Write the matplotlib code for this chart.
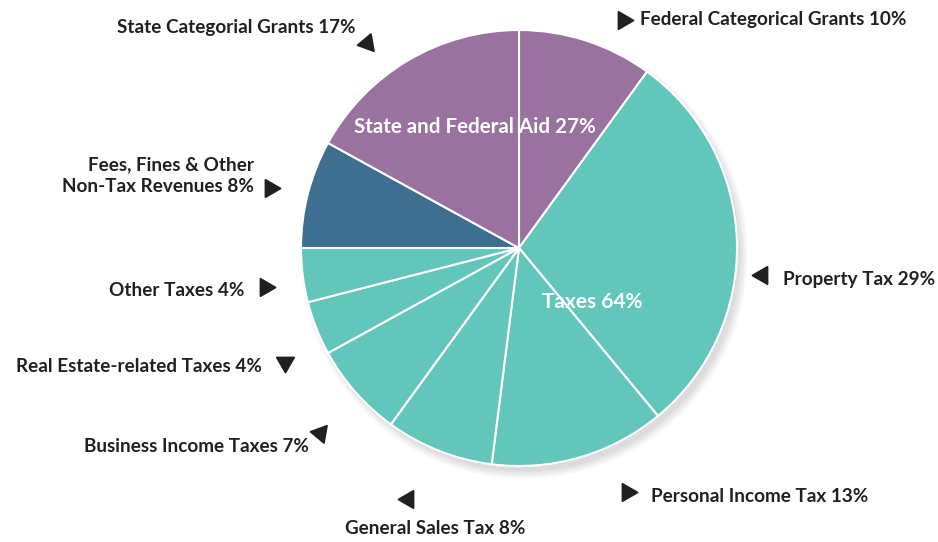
import matplotlib.pyplot as plt
import matplotlib.patches as mpatches

# data
labels = ["Federal Categorical Grants 10%", "Property Tax 29%", "Personal Income Tax 13%",
          "General Sales Tax 8%", "Business Income Taxes 7%", "Real Estate-related Taxes 4%",
          "Other Taxes 4%", "Fees, Fines & Other\nNon-Tax Revenues 8%", "State Categorial Grants 17%"]
shares = [10, 29, 13, 8, 7, 4, 4, 8, 17]
groups = ["aid", "tax", "tax", "tax", "tax", "tax", "tax", "fees", "aid"]
group_colors = {"aid": "#9a72a0", "tax": "#63c6ba", "fees": "#3e6f91"}

# label layout (pixel coords, y from top): text x, text y, alignment, arrow x, arrow y, arrow angle
label_pos = [
    (640, 19, "left", 623, 20, -90),
    (783, 279, "left", 762, 275, 90),
    (651, 496, "left", 627, 492, -90),
    (435, 528, "center", 408, 499, 90),
    (309, 447, "right", 320, 433, 80),
    (262, 367, "right", 285, 362, 180),
    (244, 290, "right", 265, 287, -90),
    (254, 176, "right", 270, 188, -90),
    (355, 27, "right", 367, 43, 100),
]

W, H = 938, 542
fig = plt.figure(figsize=(W / 100, H / 100), dpi=100)
ax = fig.add_axes([0, 0, 1, 1])
font = ["Lato", "DejaVu Sans"]

cx, cy, r = 519, H - 248, 218

# soft shadow on the lower right
for k in range(7):
    ax.add_patch(mpatches.Circle((cx + 5, cy - 7), r - 2 + k * 1.3, color="#000000",
                                 alpha=0.02, lw=0, zorder=0))

ax.pie(shares, colors=[group_colors[g] for g in groups], startangle=90, counterclock=False,
       center=(cx, cy), radius=r, frame=True,
       wedgeprops=dict(edgecolor="white", linewidth=1.5))

for lab, (tx, ty, ha, mx, my, ang) in zip(labels, label_pos):
    ax.text(tx, H - ty, lab, ha=ha, va="center", fontsize=13.6, fontweight="bold",
            color="#231f20", family=font, linespacing=1.35)
    ax.plot(mx, H - my, marker=(3, 0, ang), markersize=15, color="#231f20", zorder=5)

ax.text(475, H - 127, "State and Federal Aid 27%", ha="center", va="center", fontsize=14.8,
        fontweight="bold", color="white", family=font)
ax.text(592, H - 302, "Taxes 64%", ha="center", va="center", fontsize=15,
        fontweight="bold", color="white", family=font)

ax.set_xlim(0, W)
ax.set_ylim(0, H)
ax.set_aspect("equal")
ax.axis("off")

fig.savefig("out.png", dpi=100)
